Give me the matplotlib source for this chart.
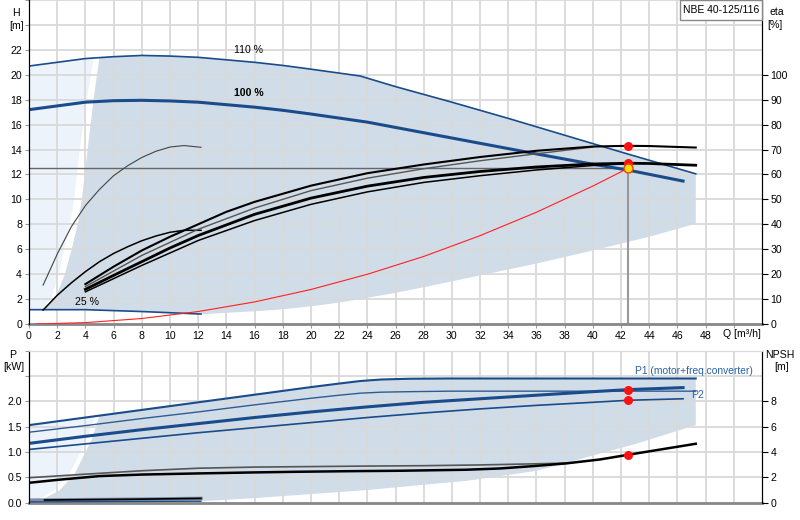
import numpy as np
import matplotlib
matplotlib.use("Agg")
import matplotlib.pyplot as plt
from matplotlib.patches import Polygon, Rectangle

plt.rcParams['font.family'] = ['Liberation Sans', 'DejaVu Sans']

# ---------------- data ----------------
# Head curves [m] vs Q [m3/h]
Q_110 = [0, 2, 4, 6, 8, 10, 12, 14, 16, 18, 20, 23.5, 26, 30, 34, 38, 42, 47.3]
H_110 = [20.7, 21.0, 21.3, 21.45, 21.55, 21.5, 21.4, 21.2, 21.0, 20.75, 20.45, 19.9, 19.05, 17.8, 16.5, 15.15, 13.8, 12.05]
Q_100 = [0, 2, 4, 6, 8, 10, 12, 14, 16, 18, 20, 24, 28, 32, 36, 40, 42.5, 46.4]
H_100 = [17.2, 17.5, 17.8, 17.92, 17.95, 17.9, 17.8, 17.6, 17.4, 17.15, 16.85, 16.2, 15.35, 14.5, 13.65, 12.82, 12.35, 11.47]
Q_25 = [0, 4, 8, 12.2]
H_25 = [1.15, 1.15, 1.0, 0.8]
# system curve
Q_sys = [0.5, 4, 8, 12, 16, 20, 24, 28, 32, 36, 40, 42.5]
H_sys = [0.0, 0.11, 0.44, 1.0, 1.77, 2.77, 3.99, 5.42, 7.09, 8.97, 11.07, 12.5]
# operating range boundaries (top chart)
HL_top = [1.15, 2, 4, 6, 8, 10, 14, 18, 21.4]
QL_top = [1.0, 1.84, 2.55, 3.03, 3.45, 3.75, 4.16, 4.58, 5.0]
QLL_top = [0.9, 1.55, 2.1, 2.5, 2.9, 3.2, 3.6, 4.1, 4.6]
QB_top = [12.2, 14, 16, 18, 20, 22, 24, 26, 28, 32, 36, 40, 44, 47.3]
HB_top = [0.78, 0.9, 1.02, 1.18, 1.42, 1.72, 2.1, 2.5, 2.95, 3.9, 4.85, 5.9, 7.0, 8.05]

# efficiency curves [%]
Q_e25 = [1, 2, 3, 4, 5, 6, 7, 8, 9, 10, 11, 12.2]
eta_p25 = [15.6, 28, 39, 47.5, 54, 59.5, 63.5, 66.8, 69.3, 71, 71.6, 70.9]
eta_t25 = [5.6, 11.5, 16.5, 21, 25, 28.3, 31, 33.4, 35.3, 36.8, 37.6, 37.6]
Q_ea = [4, 6, 8, 10, 12, 14, 16, 20, 24, 28, 32, 36, 40, 42.5, 44, 47.3]
eta_a = [16, 23, 29.5, 35, 40, 45, 49, 55.5, 60.5, 64, 67, 69.5, 71.2, 71.5, 71.4, 70.8]
Q_eb = [4, 8, 12, 16, 20, 24, 28, 32, 36, 40]
eta_b = [15, 27.5, 38, 46.5, 53.5, 58.5, 62.3, 65.5, 68.3, 71.0]
Q_ec = [4, 6, 8, 10, 12, 16, 20, 24, 28, 32, 36, 40, 42.5, 44, 47.3]
eta_c = [13.9, 19.5, 25, 30.5, 35.5, 44, 50.5, 55.3, 58.8, 61.2, 63, 64.2, 64.5, 64.4, 63.7]
Q_ed = [4, 8, 12, 16, 20, 24, 28, 32, 36, 40, 42.5]
eta_d = [12.9, 23.5, 33.5, 41.5, 48, 53, 56.8, 59.5, 61.8, 63.6, 64.3]

# duty point
Q_duty = 42.5
H_duty = 12.5
eta_duty = [71.5, 64.5]
P_duty = [2.23, 2.02]
NPSH_duty = 3.78

# power curves [kW]
Q_p110 = [0, 4, 8, 12, 16, 20, 22, 23.5, 25, 27, 30, 47.3]
P1_110 = [1.53, 1.68, 1.83, 1.98, 2.13, 2.28, 2.35, 2.40, 2.43, 2.445, 2.45, 2.45]
Q_p2_110 = [0, 4, 8, 12, 16, 20, 22, 23.5, 25, 27, 30, 47.3]
P2_110 = [1.39, 1.52, 1.66, 1.79, 1.93, 2.06, 2.12, 2.16, 2.18, 2.19, 2.2, 2.2]
Q_p100 = [0, 4, 8, 12, 16, 20, 24, 28, 32, 36, 40, 42.5, 46.4]
P1_100 = [1.17, 1.31, 1.44, 1.56, 1.68, 1.79, 1.89, 1.98, 2.05, 2.12, 2.19, 2.23, 2.27]
P2_100 = [1.05, 1.16, 1.27, 1.38, 1.48, 1.58, 1.68, 1.77, 1.85, 1.92, 1.98, 2.02, 2.05]
Q_p25 = [0, 4, 8, 12.2]
P1_25 = [0.05, 0.06, 0.07, 0.085]
P2_25 = [0.015, 0.02, 0.025, 0.03]
Q_p25b = [1.1, 4, 8, 12.2]
P1_25b = [0.053, 0.06, 0.07, 0.085]
# operating range boundaries (bottom chart)
PL_bot = [0.02, 0.09, 0.25, 0.58, 0.91, 1.24, 1.72]
QL_bot = [1.0, 1.13, 2.2, 3.26, 3.85, 4.45, 5.0]
QLL_bot = [0.6, 0.8, 1.8, 2.9, 3.5, 4.1, 4.7]
QB_bot = [1.0, 6, 12.2, 16, 20, 24, 26.3, 31, 35.8, 38.1, 40.5, 42.8, 47.3]
PB_bot = [0.02, 0.02, 0.03, 0.09, 0.17, 0.25, 0.31, 0.43, 0.62, 0.78, 0.97, 1.14, 1.53]

# NPSH curves [m]
Q_na = [0, 4, 8, 12, 16, 20, 24, 28, 32, 36, 38]
NPSH_a = [1.97, 2.25, 2.52, 2.72, 2.81, 2.85, 2.89, 2.92, 2.98, 3.07, 3.12]
Q_nb = [0, 2, 5, 8, 12, 16, 19, 23, 26.3, 31, 33.4, 35.8, 38.1, 40.5, 42.5, 47.3]
NPSH_b = [1.57, 1.8, 2.1, 2.22, 2.31, 2.39, 2.44, 2.49, 2.52, 2.6, 2.7, 2.89, 3.1, 3.41, 3.78, 4.65]

# ---------------- styling ----------------
DARK = '#D0DCE8'
LIGHT = '#ECF3FB'
BLUE = '#1A4C8B'
GRID = '#D9D9D9'
FS = 7.6

W, Hpx = 800, 520
fig = plt.figure(figsize=(8, 5.2), dpi=100)

def fx(px):
    return px / W

def fy(py):
    return 1 - py / Hpx

ax = fig.add_axes([fx(29), fy(324), fx(762 - 29), 324 / Hpx])
axb = fig.add_axes([fx(29), fy(502.7), fx(762 - 29), (502.7 - 350.6) / Hpx])

# ---- top chart shading ----
q110 = np.array(Q_110); h110 = np.array(H_110)
light_top = [(0, H_25[0])] + list(zip(QLL_top, HL_top))
light_top += [(q, h) for q, h in zip(q110[::-1], h110[::-1]) if q < QLL_top[-1]]
ax.add_patch(Polygon(light_top, closed=True, fc=LIGHT, ec='none', zorder=0.2))

dark_top = list(zip(QL_top, HL_top))
dark_top += [(q, h) for q, h in zip(q110, h110) if q > QL_top[-1]]
dark_top += list(zip(QB_top[::-1], HB_top[::-1]))
dark_top += [(q, h) for q, h in zip(Q_25[::-1], H_25[::-1]) if QL_top[0] < q < QB_top[0]]
ax.add_patch(Polygon(dark_top, closed=True, fc=DARK, ec='none', zorder=0.3))

ax.set_xlim(0, 52)
ax.set_ylim(0, 26)
ax.set_xticks(np.arange(0, 51, 2))
ax.set_xticklabels([str(v) if v <= 48 else '' for v in range(0, 51, 2)], fontsize=FS)
ax.set_yticks(np.arange(0, 27, 2))
ax.set_yticklabels([str(v) if v <= 22 else '' for v in range(0, 27, 2)], fontsize=FS)
ax.set_axisbelow(True)
ax.grid(True, color=GRID, lw=1.3)
ax.tick_params(axis='both', direction='out', length=3, color='#999999', pad=2)

ax.plot(Q_110, H_110, color=BLUE, lw=1.2, zorder=3)
ax.plot(Q_100, H_100, color=BLUE, lw=2.2, zorder=3)
ax.plot(Q_25, H_25, color=BLUE, lw=1.2, zorder=3)
ax.plot(Q_sys, H_sys, color='#FF2020', lw=0.8, zorder=3)
ax.plot([0, Q_duty], [H_duty, H_duty], color='#666666', lw=1.0, zorder=2.5)
ax.plot([Q_duty, Q_duty], [0, H_duty], color='#999999', lw=1.5, zorder=2.5)

ax.text(15.6, 22.0, '110 %', fontsize=FS, ha='center', va='center', zorder=5)
ax.text(15.6, 18.5, '100 %', fontsize=FS, fontweight='bold', ha='center', va='center', zorder=5)
ax.text(4.1, 1.8, '25 %', fontsize=FS, ha='center', va='center', zorder=5)

ax.spines['top'].set_visible(False)
ax.spines['bottom'].set_color('#888888')
ax.spines['bottom'].set_linewidth(2)
ax.spines['left'].set_color('black')
ax.spines['right'].set_color('black')

axe = ax.twinx()
axe.set_ylim(0, 130)
axe.set_yticks(np.arange(0, 101, 10))
axe.set_yticklabels([str(v) for v in range(0, 101, 10)], fontsize=FS)
axe.tick_params(axis='y', direction='out', length=4, color='black', pad=2)
axe.spines['top'].set_visible(False)
axe.spines['bottom'].set_visible(False)
axe.plot(Q_e25, eta_p25, color='#444444', lw=0.8)
axe.plot(Q_e25, eta_t25, color='black', lw=1.1)
axe.plot(Q_eb, eta_b, color='#555555', lw=1.0)
axe.plot(Q_ed, eta_d, color='black', lw=1.1)
axe.plot(Q_ea, eta_a, color='black', lw=1.5)
axe.plot(Q_ec, eta_c, color='black', lw=2.0)
axe.plot([Q_duty] * 2, eta_duty, 'o', color='#FF1010', ms=6.5, mec='none', zorder=6)
axe.plot([Q_duty], [H_duty * 130 / 26], 'o', color='#FFE000', ms=6.5, mec='#F04010', mew=1.0, zorder=7)

# model box
fig.patches.append(Rectangle((fx(680), fy(19.5)), fx(762 - 680), 19.5 / Hpx,
                             transform=fig.transFigure, fc='white', ec='#888888', lw=1, zorder=10))
fig.text(fx(721), fy(10), 'NBE 40-125/116', fontsize=7.5, ha='center', va='center', zorder=11)

fig.text(fx(16), fy(13), 'H', fontsize=FS, ha='center', va='center')
fig.text(fx(17), fy(26), '[m]', fontsize=FS, ha='center', va='center')
fig.text(fx(777), fy(12), 'eta', fontsize=FS, ha='center', va='center')
fig.text(fx(775), fy(25), '[%]', fontsize=FS, ha='center', va='center')
fig.text(fx(742), fy(334), 'Q [m³/h]', fontsize=FS, ha='center', va='center')

# ---- bottom chart ----
qp = np.array(Q_p110); p1 = np.array(P1_110)
light_bot = [(0, 0.02)] + list(zip(QLL_bot, PL_bot))
light_bot += [(q, p) for q, p in zip(qp[::-1], p1[::-1]) if q < QLL_bot[-1]]
axb.add_patch(Polygon(light_bot, closed=True, fc=LIGHT, ec='none', zorder=0.2))
dark_bot = list(zip(QL_bot, PL_bot))
dark_bot += [(q, p) for q, p in zip(qp, p1) if q > QL_bot[-1]]
dark_bot += list(zip(QB_bot[::-1], PB_bot[::-1]))
axb.add_patch(Polygon(dark_bot, closed=True, fc=DARK, ec='none', zorder=0.3))

axb.set_xlim(0, 52)
axb.set_ylim(0, 3.0)
axb.set_xticks(np.arange(0, 51, 2))
axb.set_xticklabels([])
axb.set_yticks(np.arange(0, 3.01, 0.5))
axb.set_yticklabels(['0.0', '0.5', '1.0', '1.5', '2.0', '', ''], fontsize=FS)
axb.set_axisbelow(True)
axb.grid(True, color=GRID, lw=1.3)
axb.tick_params(axis='both', direction='out', length=3, color='#999999', pad=2)
axb.tick_params(axis='x', length=0)
axb.spines['top'].set_color(GRID)
axb.spines['bottom'].set_color('#888888')
axb.spines['bottom'].set_linewidth(2)

axb.plot(Q_p110, P1_110, color=BLUE, lw=1.5, zorder=3)
axb.plot(Q_p2_110, P2_110, color='#2E5C92', lw=1.0, zorder=3)
axb.plot(Q_p100, P1_100, color=BLUE, lw=2.2, zorder=3)
axb.plot(Q_p100, P2_100, color=BLUE, lw=1.2, zorder=3)
axb.plot(Q_p25, P1_25, color='#7C8BA0', lw=2.5, zorder=3)
axb.plot(Q_p25b, P1_25b, color='black', lw=1.2, zorder=3.2)
axb.plot(Q_p25, P2_25, color=BLUE, lw=1.0, zorder=3.1)
axb.plot([Q_duty] * 2, P_duty, 'o', color='#FF1010', ms=6.5, mec='none', zorder=6)
axb.text(47.2, 2.60, 'P1 (motor+freq.converter)', fontsize=7.4, color='#2A62A8',
         ha='center', va='center', zorder=5)
axb.text(47.0, 2.12, 'P2', fontsize=FS, color='#2A62A8', ha='left', va='center', zorder=5)

axn = axb.twinx()
axn.set_ylim(0, 12)
axn.set_yticks(np.arange(0, 9, 2))
axn.set_yticklabels([str(v) for v in range(0, 9, 2)], fontsize=FS)
axn.tick_params(axis='y', direction='out', length=4, color='black', pad=2)
axn.spines['top'].set_color(GRID)
axn.spines['bottom'].set_visible(False)
axn.plot(Q_na, NPSH_a, color='#555555', lw=1.2)
axn.plot(Q_nb, NPSH_b, color='black', lw=1.8)
axn.plot([Q_duty], [NPSH_duty], 'o', color='#FF1010', ms=6.5, mec='none', zorder=6)

fig.text(fx(13), fy(355), 'P', fontsize=FS, ha='center', va='center')
fig.text(fx(14), fy(367), '[kW]', fontsize=FS, ha='center', va='center')
fig.text(fx(780), fy(355), 'NPSH', fontsize=FS, ha='center', va='center')
fig.text(fx(782), fy(367), '[m]', fontsize=FS, ha='center', va='center')

fig.savefig('out.png', dpi=100)
